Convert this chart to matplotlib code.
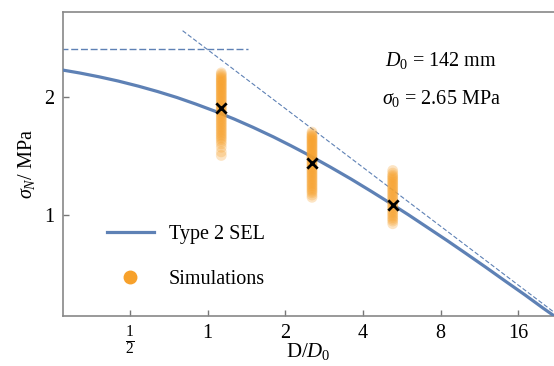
import numpy as np
import matplotlib
matplotlib.use('Agg')
import matplotlib.pyplot as plt
from matplotlib.lines import Line2D

plt.rcParams['font.family'] = ['Liberation Serif', 'DejaVu Serif']
plt.rcParams['mathtext.fontset'] = 'custom'
plt.rcParams['mathtext.rm'] = 'Liberation Serif'
plt.rcParams['mathtext.it'] = 'Liberation Serif:italic'

# SEL curve (D/D0, sigma_N in MPa)
sel_x = [0.27, 0.32, 0.38, 0.45, 0.54, 0.64, 0.76, 0.9, 1.07, 1.27, 1.5,
         1.8, 2.1, 2.5, 3.0, 3.6, 4.3, 5.1, 6.0, 7.2, 8.5, 10.0, 12.0, 14.3,
         17.0, 20.0, 22.0]
sel_y = [2.352, 2.307, 2.256, 2.201, 2.135, 2.069, 1.998, 1.922, 1.842,
         1.759, 1.676, 1.584, 1.505, 1.417, 1.325, 1.236, 1.151, 1.073,
         1.002, 0.925, 0.860, 0.799, 0.735, 0.677, 0.625, 0.578, 0.553]

# asymptotes
plastic_x = [0.27, 1.43]
plastic_y = [2.65, 2.65]
lefm_x = [0.8, 22.0]
lefm_y = [2.96, 0.565]

# simulations: one band per specimen size
sim_x = [1.13, 2.54, 5.22]
sim_y1 = [2.31, 2.29, 2.27, 2.25, 2.235, 2.22, 2.205, 2.19, 2.175, 2.16,
          2.145, 2.13, 2.115, 2.10, 2.085, 2.07, 2.055, 2.04, 2.025, 2.01,
          1.995, 1.98, 1.965, 1.95, 1.935, 1.92, 1.905, 1.89, 1.875, 1.86,
          1.845, 1.83, 1.815, 1.80, 1.785, 1.77, 1.755, 1.74, 1.725, 1.71,
          1.695, 1.68, 1.665, 1.65, 1.635, 1.62, 1.605, 1.59, 1.575, 1.56,
          1.54, 1.52, 1.49, 1.45, 1.42]
sim_y2 = [1.63, 1.615, 1.60, 1.59, 1.58, 1.57, 1.56, 1.55, 1.54, 1.53,
          1.52, 1.51, 1.50, 1.49, 1.48, 1.47, 1.46, 1.45, 1.44, 1.43, 1.42,
          1.41, 1.40, 1.39, 1.38, 1.37, 1.36, 1.35, 1.34, 1.33, 1.32, 1.31,
          1.30, 1.29, 1.28, 1.27, 1.26, 1.25, 1.24, 1.23, 1.22, 1.21, 1.20,
          1.19, 1.18, 1.17, 1.16, 1.15, 1.14, 1.125, 1.11]
sim_y3 = [1.30, 1.28, 1.265, 1.255, 1.245, 1.235, 1.225, 1.215, 1.205,
          1.195, 1.185, 1.175, 1.165, 1.155, 1.145, 1.135, 1.125, 1.115,
          1.105, 1.095, 1.085, 1.075, 1.065, 1.055, 1.045, 1.035, 1.025,
          1.015, 1.005, 0.995, 0.985, 0.975, 0.965, 0.95]
sim_bands = [sim_y1, sim_y2, sim_y3]

# means of the simulations
mean_x = [1.13, 2.54, 5.22]
mean_y = [1.88, 1.36, 1.06]

blue = '#5e81b5'
orange = '#f7a12b'

fig = plt.figure(figsize=(5.54, 3.66), dpi=100)
ax = fig.add_axes([0.1137, 0.1366, 0.886, 0.830])

ax.plot(sel_x, sel_y, color=blue, lw=2.3, zorder=3)
ax.plot(plastic_x, plastic_y, color=blue, lw=1.0, ls=(0, (5, 2)), zorder=2)
ax.plot(lefm_x, lefm_y, color=blue, lw=0.8, ls=(0, (4, 2)), zorder=2)

for xv, ys in zip(sim_x, sim_bands):
    ax.scatter([xv] * len(ys), ys, s=60, color=orange, alpha=0.28,
               edgecolors='none', zorder=4)
ax.scatter(mean_x, mean_y, marker='x', s=55, color='black', lw=2, zorder=5)

ax.set_xscale('log')
ax.set_yscale('log')
ax.set_xlim(0.275, 22)
ax.set_ylim(0.552, 3.3)

xticks = [0.5, 1, 2, 4, 8, 16]
xticklabels = [r'$\frac{1}{2}$', '1', '2', '4', '8', '16']
ax.set_xticks(xticks)
ax.set_xticklabels(xticklabels)
ax.set_yticks([1, 2])
ax.set_yticklabels(['1', '2'])
ax.minorticks_off()
ax.tick_params(direction='in', length=4, width=1, color='#777777',
               labelsize=14.5, pad=6)
ax.get_xticklabels()[0].set_fontsize(16)

for side in ['left', 'bottom', 'top']:
    ax.spines[side].set_color('#888888')
    ax.spines[side].set_linewidth(1.2)
ax.spines['right'].set_visible(False)

ax.set_xlabel(r'D/$D_0$', fontsize=15)
ax.xaxis.set_label_coords(0.5, -0.082)
ax.set_ylabel(r'$\sigma_N$/ MPa', fontsize=14.5)
ax.yaxis.set_label_coords(-0.052, 0.5)

ax.text(0.77, 0.84, r'$D_0$ = 142 mm', transform=ax.transAxes,
        fontsize=14.5, ha='center', va='center')
ax.text(0.77, 0.715, r'$\sigma_0$ = 2.65 MPa', transform=ax.transAxes,
        fontsize=14.5, ha='center', va='center')

handles = [Line2D([], [], color=blue, lw=2.3),
           Line2D([], [], color=orange, marker='o', ls='none', markersize=9)]
ax.legend(handles, ['Type 2 SEL', 'Simulations'], loc='lower left',
          bbox_to_anchor=(0.052, 0.03), frameon=False, fontsize=14.5,
          handlelength=2.35, handletextpad=0.75, labelspacing=1.25)

fig.savefig('out.png', dpi=100)
